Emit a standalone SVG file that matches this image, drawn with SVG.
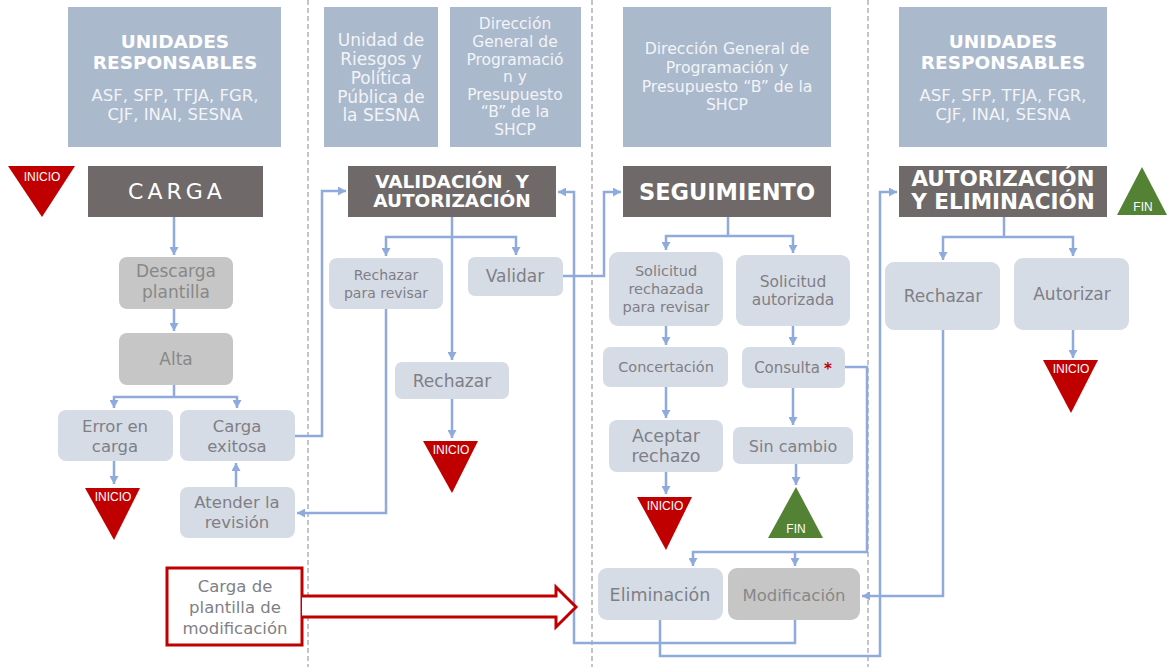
<svg xmlns="http://www.w3.org/2000/svg" width="1167" height="667" viewBox="0 0 1167 667">
<defs>
<marker id="ah" markerUnits="userSpaceOnUse" markerWidth="9" markerHeight="9" refX="8" refY="4.5" orient="auto"><path d="M0,0 L8,4.5 L0,9 z" fill="#8FAADC"/></marker>
<style>
.hdr{fill:#ABB9CC}
.ttl{fill:#6F6A69}
.nl{fill:#D6DCE5}
.ng{fill:#C6C6C6}
text{font-family:"DejaVu Sans","Liberation Sans",sans-serif;text-anchor:middle}
.hb{fill:#fff;font-weight:bold;font-size:18.5px}
.hr{fill:#F2F4F8;font-size:16.5px}
.tb{fill:#fff;font-weight:bold}
.t{fill:#7F7F86;font-size:16.5px}
.tg{fill:#888;font-size:16.5px}
.tri{fill:#C00000}
.fin{fill:#548235}
.tt{fill:#fff;font-size:12px;font-family:"Liberation Sans",sans-serif}
.sep{stroke:#8A8A8A;stroke-width:1;stroke-dasharray:5 3;fill:none}
.c{fill:none;stroke:#8FAADC;stroke-width:2.5;marker-end:url(#ah)}
.cn{fill:none;stroke:#8FAADC;stroke-width:2.5}
</style>
</defs>
<rect width="1167" height="667" fill="#fff"/>
<g id="separators">
<line class="sep" x1="308" y1="0" x2="308" y2="667"/>
<line class="sep" x1="592" y1="0" x2="592" y2="667"/>
<line class="sep" x1="868" y1="0" x2="868" y2="667"/>
</g>
<g id="header-unidades-1"><rect class="hdr" x="68" y="7" width="213" height="140"/>
<text class="hb" x="175" y="48">UNIDADES</text><text class="hb" x="175" y="69">RESPONSABLES</text>
<text class="hr" x="175" y="101">ASF, SFP, TFJA, FGR,</text><text class="hr" x="175" y="120">CJF, INAI, SESNA</text></g>
<g id="header-riesgos"><rect class="hdr" x="324" y="7" width="114" height="140"/>
<text class="hr" x="381" y="46" style="font-size:17px">Unidad de</text><text class="hr" x="381" y="65" style="font-size:17px">Riesgos y</text><text class="hr" x="381" y="84" style="font-size:17px">Política</text><text class="hr" x="381" y="103" style="font-size:17px">Pública de</text><text class="hr" x="381" y="121" style="font-size:17px">la SESNA</text></g>
<g id="header-dgpp-1"><rect class="hdr" x="450" y="7" width="131" height="140"/>
<text class="hr" x="515" y="29" style="font-size:15.5px">Dirección</text><text class="hr" x="515" y="47" style="font-size:15.5px">General de</text><text class="hr" x="515" y="65" style="font-size:15.5px">Programació</text><text class="hr" x="515" y="82" style="font-size:15.5px">n y</text><text class="hr" x="515" y="100" style="font-size:15.5px">Presupuesto</text><text class="hr" x="515" y="117" style="font-size:15.5px">“B” de la</text><text class="hr" x="515" y="135" style="font-size:15.5px">SHCP</text></g>
<g id="header-dgpp-2"><rect class="hdr" x="623" y="7" width="208" height="140"/>
<text class="hr" x="727" y="54" style="font-size:15.7px">Dirección General de</text><text class="hr" x="727" y="73" style="font-size:15.7px">Programación y</text><text class="hr" x="727" y="92" style="font-size:15.7px">Presupuesto “B” de la</text><text class="hr" x="727" y="110" style="font-size:15.7px">SHCP</text></g>
<g id="header-unidades-2"><rect class="hdr" x="899" y="7" width="208" height="140"/>
<text class="hb" x="1003" y="48">UNIDADES</text><text class="hb" x="1003" y="69">RESPONSABLES</text>
<text class="hr" x="1003" y="101">ASF, SFP, TFJA, FGR,</text><text class="hr" x="1003" y="120">CJF, INAI, SESNA</text></g>
<g id="title-carga"><rect class="ttl" x="88" y="166" width="175" height="51"/><text x="177" y="199" style="fill:#fff;font-size:22px;letter-spacing:4px">CARGA</text></g>
<g id="title-validacion"><rect class="ttl" x="348" y="166" width="208" height="51"/><text class="tb" x="452" y="188" style="font-size:18.5px;white-space:pre">VALIDACIÓN  Y</text><text class="tb" x="452" y="207" style="font-size:18.5px">AUTORIZACIÓN</text></g>
<g id="title-seguimiento"><rect class="ttl" x="623" y="166" width="208" height="51"/><text class="tb" x="727" y="200" style="font-size:22.5px">SEGUIMIENTO</text></g>
<g id="title-autorizacion"><rect class="ttl" x="899" y="166" width="208" height="51"/><text class="tb" x="1003" y="186" style="font-size:21.5px">AUTORIZACIÓN</text><text class="tb" x="1003" y="209" style="font-size:21.5px">Y ELIMINACIÓN</text></g>
<g id="inicio-1"><polygon class="tri" points="8,166 75,166 42,217"/><text class="tt" x="42" y="181">INICIO</text></g>
<g id="fin-1"><polygon class="fin" points="1117,215 1167,215 1142,167"/><text class="tt" x="1143" y="211">FIN</text></g>
<g id="descarga"><rect class="ng" x="119" y="257" width="114" height="52" rx="8"/><text class="tg" x="176" y="277" style="font-size:17px">Descarga</text><text class="tg" x="176" y="298" style="font-size:17px">plantilla</text></g>
<g id="alta"><rect class="ng" x="119" y="333" width="114" height="52" rx="8"/><text class="tg" x="176" y="365" style="font-size:17px">Alta</text></g>
<g id="error-carga"><rect class="nl" x="58" y="410" width="115" height="51" rx="8"/><text class="t" x="115" y="432">Error en</text><text class="t" x="115" y="452">carga</text></g>
<g id="carga-exitosa"><rect class="nl" x="180" y="410" width="115" height="51" rx="8"/><text class="t" x="237" y="432">Carga</text><text class="t" x="237" y="452">exitosa</text></g>
<g id="inicio-2"><polygon class="tri" points="85,488 140,488 114,540"/><text class="tt" x="113" y="501">INICIO</text></g>
<g id="atender"><rect class="nl" x="180" y="487" width="115" height="51" rx="8"/><text class="t" x="237" y="508">Atender la</text><text class="t" x="237" y="528">revisión</text></g>
<g id="rechazar-revisar"><rect class="nl" x="329" y="258" width="114" height="51" rx="8"/><text class="t" x="386" y="280" style="font-size:14px">Rechazar</text><text class="t" x="386" y="298" style="font-size:14px">para revisar</text></g>
<g id="validar"><rect class="nl" x="468" y="257" width="95" height="39" rx="7"/><text class="t" x="515" y="282" style="font-size:17px">Validar</text></g>
<g id="rechazar-val"><rect class="nl" x="395" y="362" width="114" height="37" rx="7"/><text class="t" x="452" y="387" style="font-size:17px">Rechazar</text></g>
<g id="inicio-3"><polygon class="tri" points="423,441 478,441 452,493"/><text class="tt" x="451" y="454">INICIO</text></g>
<g id="solicitud-rechazada"><rect class="nl" x="609" y="252" width="114" height="74" rx="9"/><text class="t" x="666" y="276" style="font-size:14.5px">Solicitud</text><text class="t" x="666" y="294" style="font-size:14.5px">rechazada</text><text class="t" x="666" y="312" style="font-size:14.5px">para revisar</text></g>
<g id="solicitud-autorizada"><rect class="nl" x="736" y="255" width="114" height="71" rx="9"/><text class="t" x="793" y="287" style="font-size:15.5px">Solicitud</text><text class="t" x="793" y="305" style="font-size:15.5px">autorizada</text></g>
<g id="concertacion"><rect class="nl" x="603" y="347" width="125" height="40" rx="7"/><text class="t" x="666" y="372" style="font-size:14.5px">Concertación</text></g>
<g id="consulta"><rect class="nl" x="742" y="347" width="103" height="41" rx="7"/><text class="t" x="787" y="373" style="font-size:15px">Consulta</text><text x="828" y="374" style="fill:#C00000;font-size:15px;font-weight:bold">*</text></g>
<g id="aceptar-rechazo"><rect class="nl" x="609" y="420" width="114" height="52" rx="8"/><text class="t" x="666" y="442" style="font-size:17.5px">Aceptar</text><text class="t" x="666" y="462" style="font-size:17.5px">rechazo</text></g>
<g id="sin-cambio"><rect class="nl" x="733" y="427" width="120" height="37" rx="7"/><text class="t" x="793" y="452" style="font-size:16px">Sin cambio</text></g>
<g id="inicio-4"><polygon class="tri" points="637,497 692,497 666,550"/><text class="tt" x="665" y="510">INICIO</text></g>
<g id="fin-2"><polygon class="fin" points="768,538 823,538 796,487"/><text class="tt" x="796" y="533">FIN</text></g>
<g id="eliminacion"><rect class="nl" x="598" y="568" width="125" height="52" rx="9"/><text class="t" x="660" y="601" style="font-size:17.5px">Eliminación</text></g>
<g id="modificacion"><rect class="ng" x="728" y="568" width="132" height="52" rx="9"/><text class="tg" x="794" y="601">Modificación</text></g>
<g id="rechazar-aut"><rect class="nl" x="885" y="262" width="115" height="68" rx="9"/><text class="t" x="943" y="302" style="font-size:17px">Rechazar</text></g>
<g id="autorizar"><rect class="nl" x="1014" y="258" width="115" height="72" rx="9"/><text class="t" x="1072" y="300" style="font-size:17px">Autorizar</text></g>
<g id="inicio-5"><polygon class="tri" points="1043,360 1098,360 1071,413"/><text class="tt" x="1071" y="373">INICIO</text></g>
<g id="carga-modificacion"><rect x="167" y="568" width="135" height="77" fill="#fff" stroke="#C00000" stroke-width="3"/><text class="t" x="235" y="592">Carga de</text><text class="t" x="235" y="613">plantilla de</text><text class="t" x="235" y="634">modificación</text></g>
<g id="connectors">
<path class="c" d="M174 217 V255"/>
<path class="c" d="M174 309 V331"/>
<path class="cn" d="M174 385 V397"/>
<path class="c" d="M174 397 H114 V408"/>
<path class="c" d="M174 397 H237 V408"/>
<path class="c" d="M114 461 V484"/>
<path class="c" d="M236 487 V463"/>
<path class="c" d="M295 436 H322 V191 H346"/>
<path class="c" d="M386 309 V513 H297"/>
<path class="cn" d="M452 217 V237"/>
<path class="c" d="M452 237 H386 V256"/>
<path class="c" d="M452 237 H516 V255"/>
<path class="c" d="M452 237 V360"/>
<path class="c" d="M452 399 V438"/>
<path class="c" d="M563 276 H604 V192 H621"/>
<path class="c" d="M795 620 V643 H574 V192 H558"/>
<path class="cn" d="M728 217 V236"/>
<path class="c" d="M728 236 H666 V250"/>
<path class="c" d="M728 236 H793 V253"/>
<path class="c" d="M666 326 V345"/>
<path class="c" d="M793 326 V345"/>
<path class="c" d="M666 387 V418"/>
<path class="c" d="M666 472 V494"/>
<path class="c" d="M793 388 V425"/>
<path class="c" d="M796 464 V485"/>
<path class="c" d="M845 367 H867 V552 H693 V566"/>
<path class="c" d="M795 552 V566"/>
<path class="c" d="M660 620 V656 H880 V192 H897"/>
<path class="cn" d="M1004 217 V237"/>
<path class="c" d="M1004 237 H943 V260"/>
<path class="c" d="M1004 237 H1073 V256"/>
<path class="c" d="M943 330 V596 H862"/>
<path class="c" d="M1073 330 V358"/>
<path d="M302 596 H556 V587 L576 607 L556 627 V617 H302" fill="#fff" stroke="#C00000" stroke-width="3" stroke-linejoin="miter"/>
</g>
</svg>
